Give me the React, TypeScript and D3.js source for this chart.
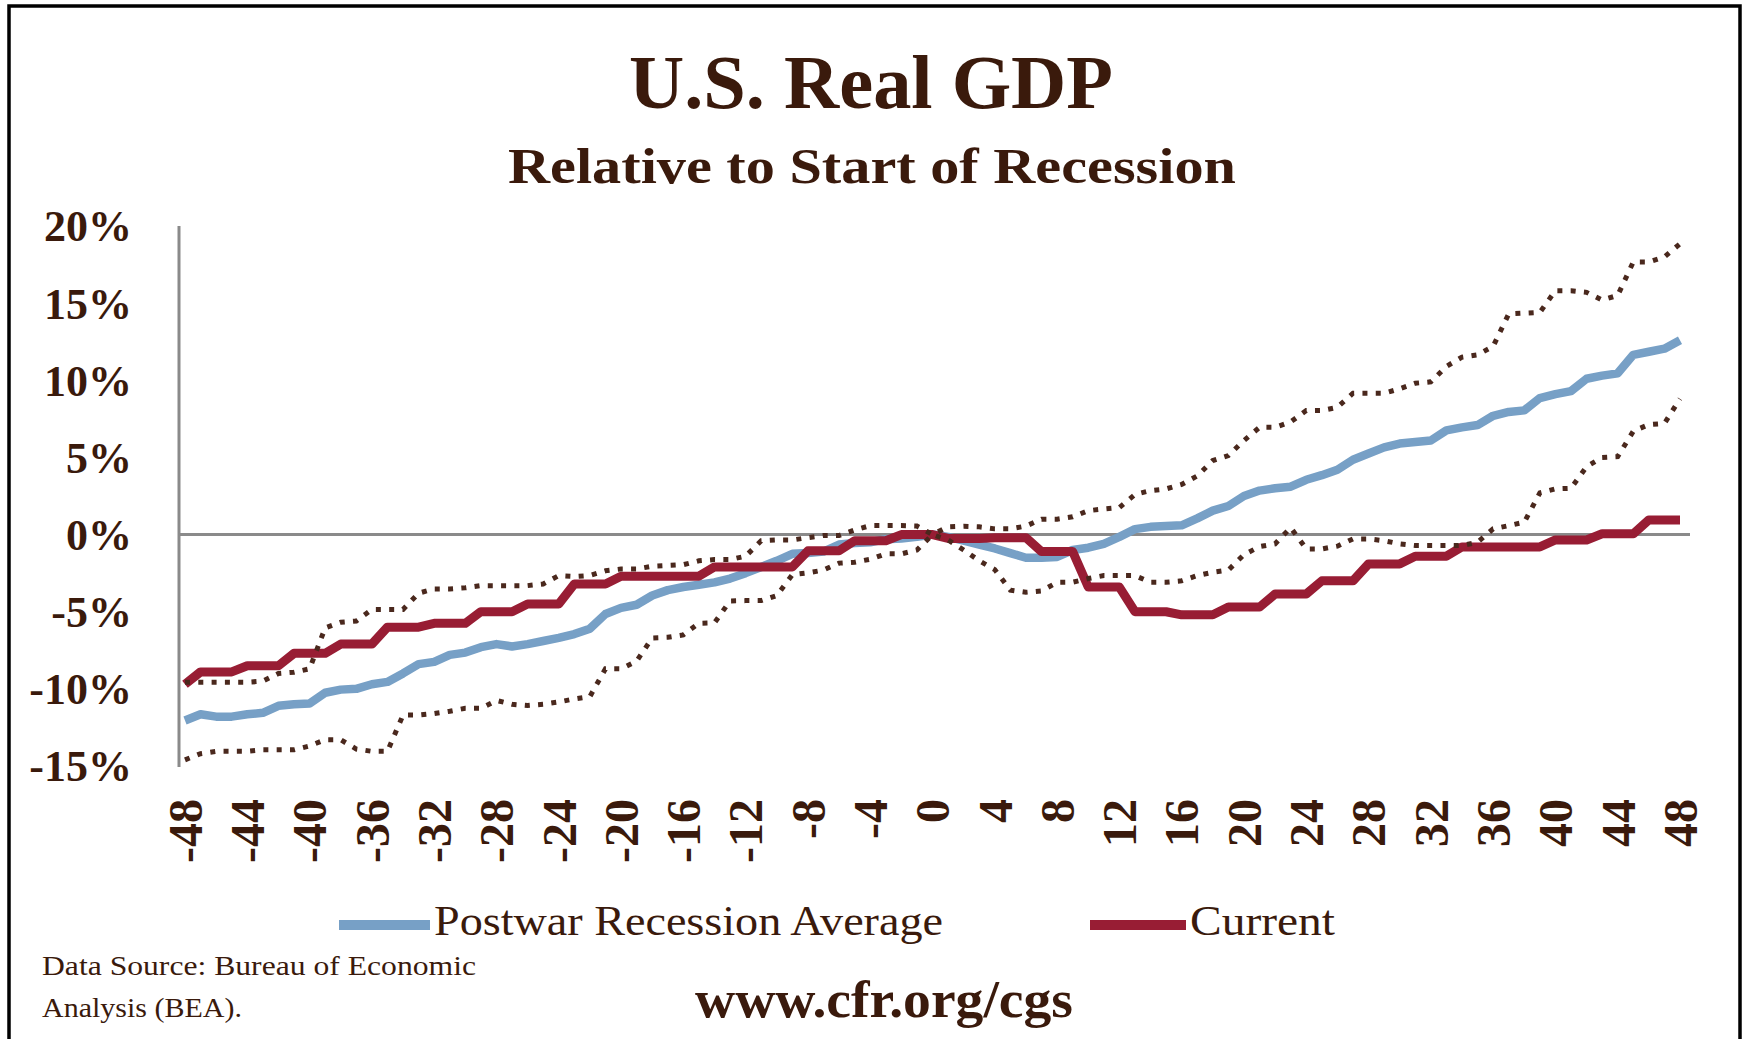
import React from 'react';
import * as d3 from 'd3';

// months relative to start of recession
const months: number[] = d3.range(-48, 49);
const xTicks: number[] = [-48, -44, -40, -36, -32, -28, -24, -20, -16, -12, -8, -4, 0, 4, 8, 12, 16, 20, 24, 28, 32, 36, 40, 44, 48];
const yTicks: number[] = [20, 15, 10, 5, 0, -5, -10, -15];

// Postwar Recession Average (%), months -48..48
const postwarAverage: number[] = [
  -12.05, -11.65, -11.8, -11.8, -11.65, -11.55, -11.1, -11.0, -10.95, -10.25,
  -10.05, -10.0, -9.7, -9.55, -9.0, -8.4, -8.25, -7.8, -7.65, -7.3,
  -7.1, -7.25, -7.1, -6.9, -6.7, -6.45, -6.1, -5.15, -4.75, -4.55,
  -3.95, -3.6, -3.4, -3.25, -3.1, -2.85, -2.5, -2.1, -1.7, -1.25,
  -1.2, -1.1, -0.65, -0.55, -0.5, -0.3, -0.25, -0.15, 0,
  -0.15, -0.4, -0.65, -0.9, -1.2, -1.5, -1.5, -1.45, -1.0, -0.85,
  -0.6, -0.15, 0.35, 0.5, 0.55, 0.6, 1.05, 1.55, 1.85, 2.5,
  2.85, 3.0, 3.1, 3.55, 3.85, 4.2, 4.85, 5.25, 5.65, 5.9,
  6.0, 6.1, 6.75, 6.95, 7.1, 7.7, 7.95, 8.05, 8.85, 9.1,
  9.3, 10.1, 10.3, 10.45, 11.65, 11.85, 12.05, 12.6,
];

// Current recession (%), months -48..48
const current: number[] = [
  -9.7, -8.9, -8.9, -8.9, -8.5, -8.5, -8.5, -7.7, -7.7, -7.7,
  -7.1, -7.1, -7.1, -6.0, -6.0, -6.0, -5.75, -5.75, -5.75, -5.0,
  -5.0, -5.0, -4.5, -4.5, -4.5, -3.2, -3.2, -3.2, -2.7, -2.7,
  -2.7, -2.7, -2.7, -2.7, -2.1, -2.1, -2.1, -2.1, -2.1, -2.1,
  -1.05, -1.05, -1.05, -0.4, -0.4, -0.4, 0, 0, 0,
  -0.25, -0.25, -0.25, -0.2, -0.2, -0.2, -1.1, -1.1, -1.1, -3.4,
  -3.4, -3.4, -5.0, -5.0, -5.0, -5.2, -5.2, -5.2, -4.7, -4.7,
  -4.7, -3.85, -3.85, -3.85, -3.0, -3.0, -3.0, -1.9, -1.9, -1.9,
  -1.4, -1.4, -1.4, -0.8, -0.8, -0.8, -0.8, -0.8, -0.8, -0.35,
  -0.35, -0.35, 0.05, 0.05, 0.05, 0.95, 0.95, 0.95,
];

// Upper range of postwar recessions (%), months -48..48
const upperBound: number[] = [
  -9.57, -9.57, -9.57, -9.57, -9.57, -9.5, -9.0, -8.92, -8.7, -6.05,
  -5.68, -5.6, -4.86, -4.86, -4.86, -3.8, -3.52, -3.52, -3.45, -3.31,
  -3.31, -3.31, -3.31, -3.2, -2.66, -2.72, -2.65, -2.35, -2.23, -2.23,
  -2.05, -2.0, -1.95, -1.7, -1.62, -1.62, -1.4, -0.4, -0.35, -0.35,
  -0.2, -0.06, -0.06, 0.3, 0.58, 0.58, 0.58, 0.55, 0,
  0.5, 0.54, 0.5, 0.37, 0.37, 0.55, 1.0, 1.0, 1.15, 1.55,
  1.66, 1.75, 2.6, 2.85, 2.96, 3.25, 3.8, 4.8, 5.12, 6.1,
  6.95, 6.95, 7.3, 8.04, 8.04, 8.25, 9.16, 9.16, 9.16, 9.45,
  9.81, 9.9, 10.9, 11.5, 11.65, 12.2, 14.3, 14.35, 14.4, 15.81,
  15.81, 15.7, 15.2, 15.5, 17.67, 17.67, 18.0, 18.85,
];

// Lower range of postwar recessions (%), months -48..48
const lowerBound: number[] = [
  -14.6, -14.2, -14.05, -14.05, -14.05, -13.95, -13.95, -13.95, -13.7, -13.3,
  -13.3, -13.9, -14.05, -14.05, -11.7, -11.7, -11.6, -11.45, -11.26, -11.26,
  -10.75, -11.0, -11.08, -11.0, -10.85, -10.65, -10.5, -8.7, -8.7, -8.2,
  -6.7, -6.66, -6.5, -5.75, -5.72, -4.3, -4.28, -4.28, -3.95, -2.6,
  -2.48, -2.3, -1.85, -1.79, -1.6, -1.25, -1.25, -1.0, 0,
  -0.35, -1.0, -1.7, -2.27, -3.6, -3.74, -3.65, -3.1, -3.09, -2.85,
  -2.66, -2.66, -2.66, -3.09, -3.09, -3.0, -2.66, -2.44, -2.3, -1.3,
  -0.78, -0.6, 0.45, -0.93, -0.93, -0.75, -0.28, -0.28, -0.4, -0.6,
  -0.71, -0.71, -0.71, -0.71, -0.5, 0.37, 0.58, 0.8, 2.7, 2.96,
  3.0, 4.4, 5.0, 5.05, 6.7, 7.13, 7.2, 8.8,
];

const TEXT = '#3a1a0c';
const BLUE = '#77a0c6';
const RED = '#981d34';
const DOT = '#4a281d';
const AXIS = '#8a8a8a';
const FONT = '"Liberation Serif", "DejaVu Serif", serif';

export default function App() {
  const W = 1744;
  const H = 1039;
  const x = d3.scaleLinear().domain([-48, 48]).range([185, 1680]);
  const y = d3.scaleLinear().domain([-15, 20]).range([766, 226]);
  const lineGen = d3
    .line<number>()
    .x((_, i) => x(months[i]))
    .y((d) => y(d));

  return (
    <svg
      width={W}
      height={H}
      viewBox={`0 0 ${W} ${H}`}
      style={{ position: 'absolute', left: 0, top: 0, background: '#fff' }}
      fontFamily={FONT}
    >
      <rect x={0} y={0} width={W} height={H} fill="#fff" />
      <rect x={9} y={6} width={1731} height={1100} fill="none" stroke="#000" strokeWidth={3.5} />

      {/* titles */}
      <text x={871} y={108} textAnchor="middle" fontSize={76} fontWeight={700} fill={TEXT} textLength={484} lengthAdjust="spacingAndGlyphs">
        U.S. Real GDP
      </text>
      <text x={872} y={183} textAnchor="middle" fontSize={50} fontWeight={700} fill={TEXT} textLength={728} lengthAdjust="spacingAndGlyphs">
        Relative to Start of Recession
      </text>

      {/* axes */}
      <line x1={179} x2={179} y1={y(20)} y2={y(-15) + 1} stroke={AXIS} strokeWidth={3} />
      <line x1={179} x2={1690} y1={y(0)} y2={y(0)} stroke={AXIS} strokeWidth={3} />

      {yTicks.map((t) => (
        <text key={t} x={132} y={y(t)} dy="0.35em" textAnchor="end" fontSize={44} fontWeight={700} fill={TEXT}>
          {`${t}%`}
        </text>
      ))}

      {xTicks.map((t) => (
        <text
          key={t}
          transform={`translate(${x(t)},799) rotate(-90)`}
          dy="0.35em"
          textAnchor="end"
          fontSize={48}
          fontWeight={700}
          fill={TEXT}
        >
          {`${t}`}
        </text>
      ))}

      {/* series */}
      <path d={lineGen(postwarAverage) || ''} fill="none" stroke={BLUE} strokeWidth={8.5} strokeLinejoin="round" />
      <path d={lineGen(current) || ''} fill="none" stroke={RED} strokeWidth={9} strokeLinejoin="round" />
      <path d={lineGen(upperBound) || ''} fill="none" stroke={DOT} strokeWidth={5} strokeDasharray="5 8.3" />
      <path d={lineGen(lowerBound) || ''} fill="none" stroke={DOT} strokeWidth={5} strokeDasharray="5 8.3" />

      {/* legend */}
      <line x1={339} x2={430} y1={925} y2={925} stroke={BLUE} strokeWidth={10} />
      <text x={434} y={935} fontSize={42} fill={TEXT} textLength={509} lengthAdjust="spacingAndGlyphs">
        Postwar Recession  Average
      </text>
      <line x1={1090} x2={1186} y1={925} y2={925} stroke={RED} strokeWidth={10} />
      <text x={1190} y={935} fontSize={42} fill={TEXT} textLength={145} lengthAdjust="spacingAndGlyphs">
        Current
      </text>

      {/* footer */}
      <text x={42} y={975} fontSize={27} fill={TEXT} textLength={434} lengthAdjust="spacingAndGlyphs">
        Data Source: Bureau of Economic
      </text>
      <text x={42} y={1017} fontSize={27} fill={TEXT} textLength={200} lengthAdjust="spacingAndGlyphs">
        Analysis (BEA).
      </text>
      <text x={695} y={1017} fontSize={52} fontWeight={700} fill={TEXT} textLength={378} lengthAdjust="spacingAndGlyphs">
        www.cfr.org/cgs
      </text>
    </svg>
  );
}
